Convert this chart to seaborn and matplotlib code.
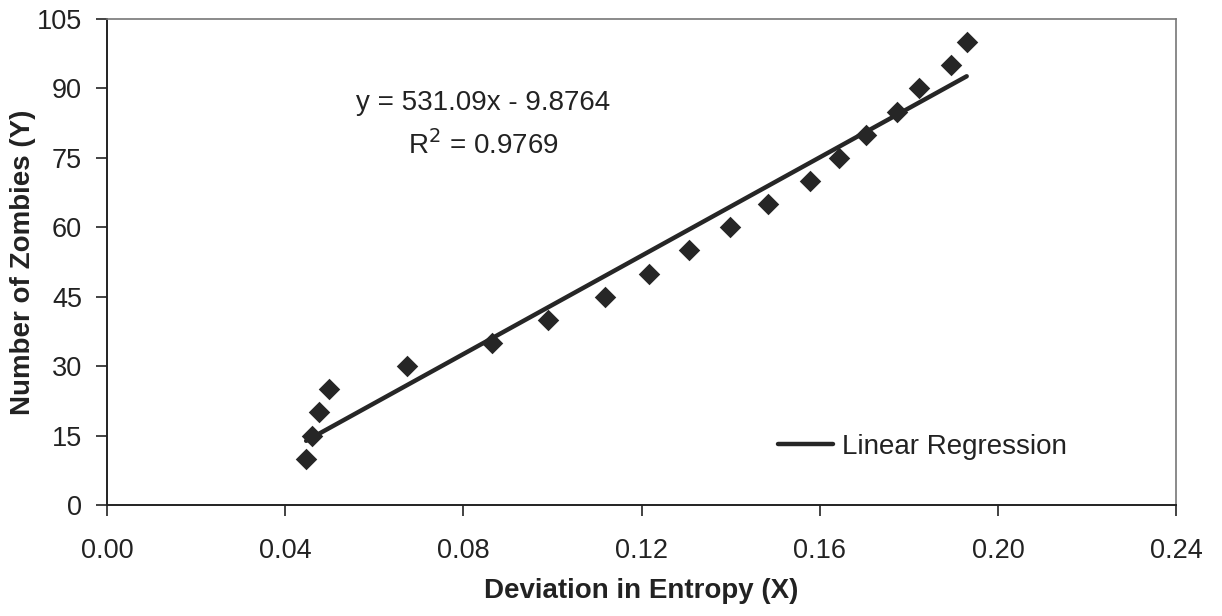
import matplotlib
matplotlib.use("Agg")
import matplotlib.pyplot as plt
import seaborn as sns
import numpy as np
import pandas as pd

# Observed entropy deviation vs. zombie counts
deviation = [0.0447, 0.0461, 0.0476, 0.0499, 0.0674, 0.0865, 0.0989, 0.1117,
             0.1216, 0.1306, 0.1398, 0.1485, 0.1578, 0.1643, 0.1703, 0.1773,
             0.1822, 0.1894, 0.1930]
zombies = [10, 15, 20, 25, 30, 35, 40, 45, 50, 55, 60, 65, 70, 75, 80, 85,
           90, 95, 100]

# Fitted linear model
slope = 531.09
intercept = -9.8764
r_squared = 0.9769

x_ticks = [0.00, 0.04, 0.08, 0.12, 0.16, 0.20, 0.24]
y_ticks = [0, 15, 30, 45, 60, 75, 90, 105]

sns.set_theme(style="white")
plt.rcParams["font.family"] = ["Liberation Sans", "DejaVu Sans"]

df = pd.DataFrame({"x": deviation, "y": zombies})
x_fit = np.array([min(deviation), max(deviation)])
fit = pd.DataFrame({"x": x_fit, "y": slope * x_fit + intercept})

fig = plt.figure(figsize=(12.22, 6.16), dpi=100)
ax = fig.add_axes([0.0876, 0.1802, 0.8748, 0.789])

ink = "#262626"
sns.scatterplot(data=df, x="x", y="y", ax=ax, marker="D", s=120,
                color=ink, edgecolor=ink, linewidth=0, zorder=3)
sns.lineplot(data=fit, x="x", y="y", ax=ax, color=ink, linewidth=3.2,
             label="Linear Regression", zorder=2)

ax.set_xlim(0, 0.24)
ax.set_ylim(0, 105)
ax.set_xticks(x_ticks)
ax.set_xticklabels([f"{t:.2f}" for t in x_ticks])
ax.set_yticks(y_ticks)
ax.tick_params(axis="both", direction="out", length=8, width=1.2,
               colors="#222222", labelsize=19.5, left=True, bottom=True)
ax.tick_params(axis="x", pad=16)
ax.tick_params(axis="y", pad=10)

for side in ("left", "bottom"):
    ax.spines[side].set_color("#222222")
    ax.spines[side].set_linewidth(1.4)
for side in ("top", "right"):
    ax.spines[side].set_color("#777777")
    ax.spines[side].set_linewidth(1.2)

ax.set_xlabel("Deviation in Entropy (X)", fontsize=20, fontweight="bold",
              color="#222222", labelpad=10)
ax.set_ylabel("Number of Zombies (Y)", fontsize=20, fontweight="bold",
              color="#222222", va="center")
ax.yaxis.set_label_coords(-0.079, 0.5)

ax.text(0.0845, 86.8, f"y = {slope}x - {abs(intercept)}", fontsize=20,
        ha="center", va="center", color="#222222")
ax.text(0.0845, 77.8, f"R$^{{2}}$ = {r_squared}", fontsize=20,
        ha="center", va="center", color="#222222")

leg = ax.legend(loc="center left", bbox_to_anchor=(0.604, 0.12), frameon=False,
                fontsize=20, handlelength=2.0, handletextpad=0.3)
for t in leg.get_texts():
    t.set_color("#222222")

fig.savefig("out.png", dpi=100, facecolor="white")
